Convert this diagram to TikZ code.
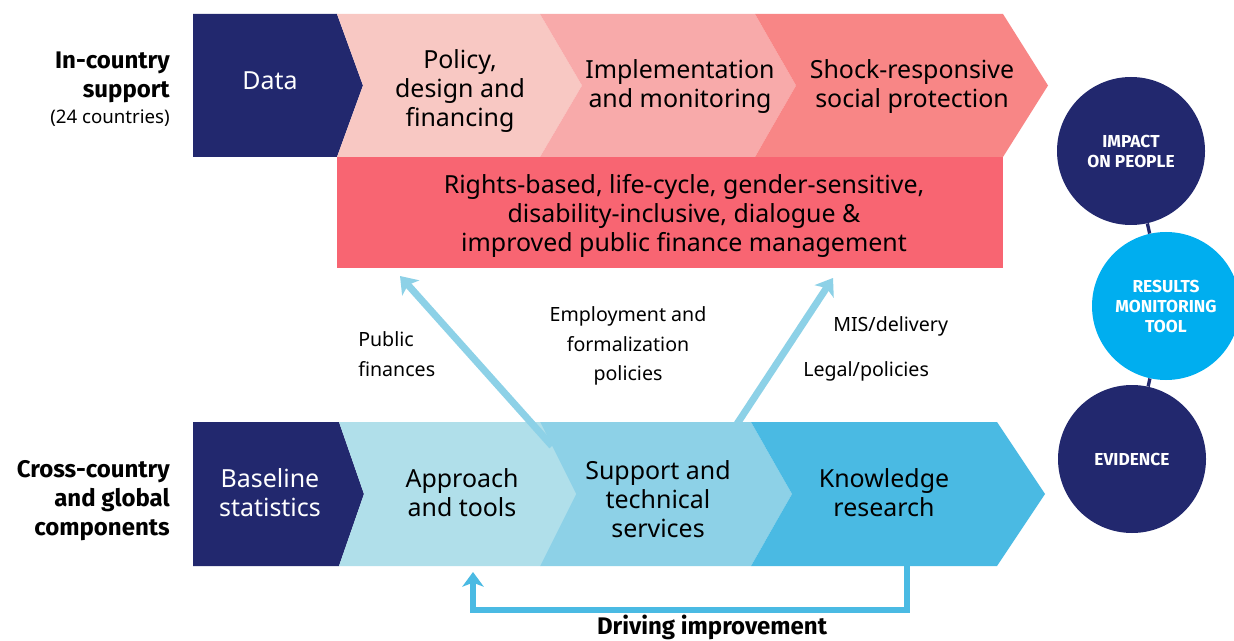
\documentclass[tikz,border=0pt]{standalone}
\usepackage{fontspec}
\setmainfont{Noto Sans}
\newfontfamily\dinfont{Fira Sans}
\usepackage{tikz}
\usetikzlibrary{arrows.meta,positioning,calc}
\usepackage{xcolor}
\definecolor{navy}{HTML}{22286E}
\definecolor{pinkA}{HTML}{F8C8C3}
\definecolor{pinkB}{HTML}{F8AAAA}
\definecolor{pinkC}{HTML}{F88686}
\definecolor{rose}{HTML}{F86572}
\definecolor{blueA}{HTML}{B0DFEA}
\definecolor{blueB}{HTML}{8DD1E7}
\definecolor{blueC}{HTML}{4ABAE3}
\definecolor{brightblue}{HTML}{00AEEF}
\tikzset{
  segtext/.style={align=center,inner sep=0pt,font=\fontsize{18.7}{21.75}\selectfont},
  darktext/.style={segtext,text=white},
  channel/.style={align=center,inner sep=0pt,font=\fontsize{14.7}{22}\selectfont},
  sidelabel/.style={align=right,anchor=east,inner sep=0pt,
    font=\dinfont\bfseries\fontsize{18}{21.75}\selectfont},
  countnote/.style={inner sep=0pt,font=\fontsize{14}{16}\selectfont},
  outcome/.style={circle,minimum size=111pt,inner sep=0pt,align=center,text=white,
    font=\dinfont\bfseries\fontsize{13}{15}\selectfont},
  feed/.style={-{Stealth[length=12pt,width=17pt,inset=3pt]},draw=blueB,line width=5.25pt},
  improve/.style={-{Stealth[length=11pt,width=16pt,inset=3pt]},draw=blueC,line width=4.5pt},
  link/.style={draw=navy,line width=2.5pt}
}
\begin{document}
\begin{tikzpicture}[x=0.75pt,y=-0.75pt]
  \useasboundingbox (0,0) rectangle (1234,641);
  \fill[white] (0,0) rectangle (1234,641);

  % in-country chevrons
  \fill[navy] (193,14) -- (193,157) -- (337,157) -- (363,85.5) -- (337,14) -- cycle;
  \foreach \col/\xl/\pl/\xr/\pr in {pinkA/337/363/540/582,pinkB/540/582/755/796,pinkC/755/796/1003/1048}
    \fill[\col] (\xl,14) -- (\pl,85.5) -- (\xl,157) -- (\xr,157) -- (\pr,85.5) -- (\xr,14) -- cycle;
  \fill[rose] (337,157) rectangle (1003,268);

  % cross-country chevrons
  \fill[navy] (193,422) -- (193,566) -- (339,566) -- (364,494) -- (339,422) -- cycle;
  \foreach \col/\xl/\pl/\xr/\pr in {blueA/339/364/540/576,blueB/540/576/751/792,blueC/751/792/997/1045}
    \fill[\col] (\xl,422) -- (\pl,494) -- (\xl,566) -- (\xr,566) -- (\pr,494) -- (\xr,422) -- cycle;

  \node[darktext] (data) at (270,81) {Data};
  \node[segtext] (policy) at (460,91) {Policy,\\design and\\financing};
  \node[segtext] (implementation) at (680,87) {Implementation\\and monitoring};
  \node[segtext] (shock) at (912,87) {Shock-responsive\\social protection};
  \node[segtext] (principles) at (684,216) {Rights-based, life-cycle, gender-sensitive,\\disability-inclusive, dialogue \&\\improved public finance management};

  \node[darktext] (baseline) at (270,493) {Baseline\\statistics};
  \node[segtext] (approach) at (462,493) {Approach\\and tools};
  \node[segtext] (services) at (658,499) {Support and\\technical\\services};
  \node[segtext] (knowledge) at (884,493) {Knowledge\\research};

  % row labels
  \node[sidelabel] (incountry) at (170,77) {In-country\\support};
  \node[countnote,below=5pt of incountry.south east,anchor=north east] (countries) {(24 countries)};
  \node[sidelabel] (crosscountry) at (170,501) {Cross-country\\and global\\components};

  % channels feeding the country work
  \node[channel,align=left,anchor=west] (publicfin) at (358,354) {Public\\finances};
  \node[channel] (employment) at (628,346) {Employment and\\formalization\\policies};
  \node[channel,anchor=west] (mis) at (833,326) {MIS/delivery};
  \node[channel,anchor=west] (legal) at (803,371) {Legal/policies};

  \coordinate (pfFrom) at (552,446);
  \coordinate (pfTo) at (400,276);
  \coordinate (misFrom) at (733,430);
  \coordinate (misTo) at (833,278);
  \draw[feed] (pfFrom) -- (pfTo);
  \draw[feed] (misFrom) -- (misTo);

  % feedback loop
  \coordinate (drvFrom) at (907,566);
  \coordinate (drvTip) at (473,572);
  \draw[improve] (drvFrom) -- (907,610) -- (473,610) -- (drvTip);
  \node[anchor=base,inner sep=0pt,font=\dinfont\bfseries\fontsize{18}{20}\selectfont] (driving) at (712,634) {Driving improvement};

  % results chain
  \node[outcome,fill=navy] (impact) at (1131,151) {IMPACT\\ON PEOPLE};
  \node[outcome,fill=brightblue] (results) at (1166,306) {RESULTS\\MONITORING\\TOOL};
  \node[outcome,fill=navy] (evidence) at (1132,459) {EVIDENCE};
  \draw[link] (impact) -- (results) -- (evidence);
\end{tikzpicture}
\end{document}
